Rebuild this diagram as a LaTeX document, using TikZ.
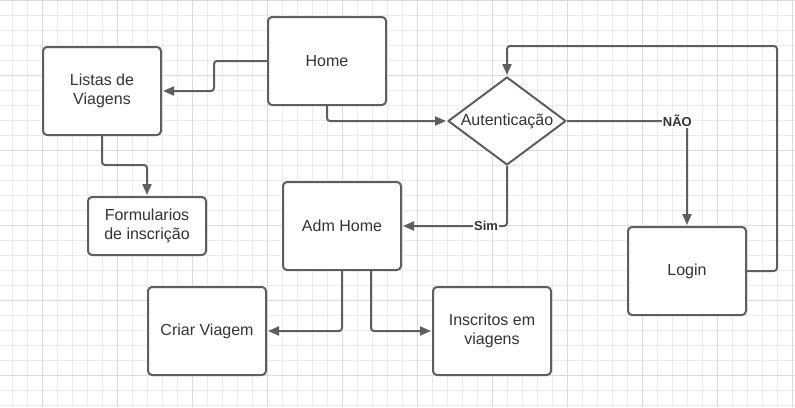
\documentclass[tikz,border=0pt]{standalone}
\usepackage{fontspec}
\setmainfont{Liberation Sans}
\usetikzlibrary{shapes.geometric,arrows.meta}
\definecolor{linha}{HTML}{5E5E5E}
\definecolor{texto}{HTML}{333333}
\definecolor{gradefina}{HTML}{EBEBEB}
\definecolor{gradeforte}{HTML}{DCDCDC}
\begin{document}
\begin{tikzpicture}[x=1pt,y=-1pt, font=\fontsize{16}{19}\selectfont, line join=round,
    caixa/.style={draw=linha, line width=2pt, rounded corners=4pt, fill=white, minimum width=118, minimum height=88, align=center, text=texto},
    losango/.style={draw=linha, line width=2pt, diamond, aspect=1.34, fill=white, inner sep=0pt, minimum width=118, minimum height=88, text=texto},
    seta/.style={draw=linha, line width=2pt, rounded corners=3pt, shorten >=1pt, -{Triangle[length=11pt,width=9pt]}},
    rotulo/.style={fill=white, inner sep=1pt, text=texto, font=\fontsize{13}{15}\selectfont\bfseries}]
    \useasboundingbox (0,0) rectangle (795,407);
    \fill[white](0,0) rectangle (795,407);
    \foreach\x in{12.7,27.7,...,795}{\draw[gradefina,line width=1pt](\x,0)--(\x,407);}
    \foreach\y in{0.7,15.7,...,407}{\draw[gradefina,line width=1pt](0,\y)--(795,\y);}
    \foreach\x in{42.7,117.7,...,795}{\draw[gradeforte,line width=1pt](\x,0)--(\x,407);}
    \foreach\y in{0.7,75.7,...,407}{\draw[gradeforte,line width=1pt](0,\y)--(795,\y);}
    \node[caixa](home) at (327,61){Home};
    \node[caixa](listas) at (102,91){Listas de\\Viagens};
    \node[caixa,minimum height=58](form) at (147,226){Formularios\\de inscrição};
    \node[losango](aut) at (507,121){Autenticação};
    \node[caixa](adm) at (342,226){Adm Home};
    \node[caixa](login) at (687,271){Login};
    \node[caixa](criar) at (207,331){Criar Viagem};
    \node[caixa](insc) at (492,331){Inscritos em\\viagens};
    \coordinate (volta) at (777,46);
    \draw[seta](home.west)--++(-53,0)|-(listas.east);
    \draw[seta](home.south)|-(aut.west);
    \draw[seta](listas.south)--++(0,29)-|(form.north);
    \draw[seta](aut.east)-|node[rotulo,pos=.46]{NÃO}(login.north);
    \draw[seta](aut.south)|-node[rotulo,pos=.6]{Sim}(adm.east);
    \draw[seta](login.east)-|(volta)-|(aut.north);
    \draw[seta](adm.south)|-(criar.east);
    \draw[seta]([xshift=29]adm.south)|-(insc.west);
\end{tikzpicture}
\end{document}
